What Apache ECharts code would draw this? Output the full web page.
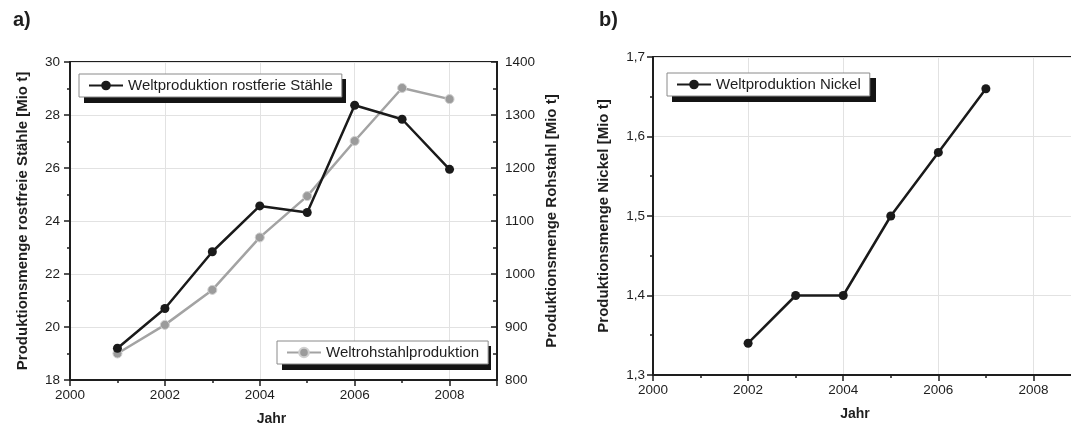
<!DOCTYPE html>
<html>
<head>
<meta charset="utf-8">
<script src="https://cdn.jsdelivr.net/npm/echarts@6/dist/echarts.min.js"></script>
<style>
  html, body { margin: 0; padding: 0; background: #fff; }
  #chart { width: 1071px; height: 429px; }
</style>
</head>
<body>
<div id="chart"></div>
<script>
// Panel a): world production of stainless steel and crude steel
const years = [2001, 2002, 2003, 2004, 2005, 2006, 2007, 2008];
const stainless = [19.2, 20.7, 22.84, 24.57, 24.32, 28.37, 27.84, 25.95];   // Mio t
const crudeSteel = [850, 904, 970, 1069, 1147, 1251, 1351, 1330];            // Mio t

// Panel b): world nickel production
const nickelYears = [2002, 2003, 2004, 2005, 2006, 2007];
const nickel = [1.34, 1.40, 1.40, 1.50, 1.58, 1.66];                         // Mio t

const NAME_STAINLESS = 'Weltproduktion rostferie Stähle';
const NAME_CRUDE = 'Weltrohstahlproduktion';
const NAME_NICKEL = 'Weltproduktion Nickel';

const FONT = 'Liberation Sans, Arial, Helvetica, sans-serif';
const INK = '#1e1e1e';
const GRIDLINE = '#e2e2e2';

const pairs = (xs, ys) => xs.map((x, i) => [x, ys[i]]);

function xAxisFor(gridIndex) {
  return {
    type: 'value', gridIndex,
    min: 2000, max: 2009, interval: 2,
    name: 'Jahr', nameLocation: 'middle', nameGap: 32,
    nameTextStyle: { fontFamily: FONT, fontSize: 14, fontWeight: 'bold', color: INK, padding: [0, 24, 0, 0] },
    axisLine: { show: true, onZero: false, lineStyle: { color: INK, width: 2 } },
    axisTick: { show: true, inside: false, length: 6, lineStyle: { color: INK, width: 1.5 } },
    minorTick: { show: true, splitNumber: 2, length: 3, lineStyle: { color: INK, width: 1.5 } },
    axisLabel: { showMaxLabel: false, margin: 8, fontFamily: FONT, fontSize: 13.5, color: INK, formatter: v => String(v) },
    splitLine: { show: true, lineStyle: { color: GRIDLINE, width: 1 } }
  };
}

// Legend box (white, grey frame); its black drop shadow is a separate rect below
function legendFor(name, left, top) {
  return {
    data: [name], left, top, orient: 'horizontal', z: 8,
    padding: [4, 9, 4, 9], itemWidth: 34, itemHeight: 12,
    backgroundColor: '#fff', borderColor: '#8a8a8a', borderWidth: 1,
    textStyle: { fontFamily: FONT, fontSize: 15, color: INK },
    selectedMode: false
  };
}
function shadowRect(x, y, w, h) {
  return { type: 'rect', z: 6, shape: { x: x + 5, y: y + 5, width: w, height: h }, style: { fill: '#141414' } };
}

const chart = echarts.init(document.getElementById('chart'), null, { renderer: 'canvas' });

chart.setOption({
  backgroundColor: '#fff',
  animation: false,
  textStyle: { fontFamily: FONT },
  title: [
    { text: 'a)', left: 8, top: 5, textStyle: { fontFamily: FONT, fontSize: 20, fontWeight: 'bold', color: INK } },
    { text: 'b)', left: 594, top: 5, textStyle: { fontFamily: FONT, fontSize: 20, fontWeight: 'bold', color: INK } }
  ],
  grid: [
    { left: 70, top: 62, right: 574, bottom: 49, outerBoundsMode: 'none', containLabel: false,
      show: true, borderColor: INK, borderWidth: 2, backgroundColor: 'transparent' },
    { left: 653, top: 57, right: -10, bottom: 54, outerBoundsMode: 'none', containLabel: false,
      show: true, borderColor: INK, borderWidth: 2, backgroundColor: 'transparent' }
  ],
  legend: [
    legendFor(NAME_STAINLESS, 79, 74),
    legendFor(NAME_CRUDE, 277, 341),
    legendFor(NAME_NICKEL, 667, 73)
  ],
  graphic: [
    shadowRect(79, 74, 262, 24),
    shadowRect(277, 341, 209, 24),
    shadowRect(667, 73, 204, 24)
  ],
  xAxis: [xAxisFor(0), xAxisFor(1)],
  yAxis: [
    {
      type: 'value', gridIndex: 0, position: 'left',
      min: 18, max: 30, interval: 2,
      name: 'Produktionsmenge rostfreie Stähle [Mio t]', nameLocation: 'middle', nameGap: 40,
      nameTextStyle: { fontFamily: FONT, fontSize: 15, fontWeight: 'bold', color: INK },
      axisLine: { show: true, onZero: false, lineStyle: { color: INK, width: 2 } },
      axisTick: { show: true, inside: false, length: 6, lineStyle: { color: INK, width: 1.5 } },
      minorTick: { show: true, splitNumber: 2, length: 3, lineStyle: { color: INK, width: 1.5 } },
      axisLabel: { margin: 10, fontFamily: FONT, fontSize: 13.5, color: INK, formatter: v => String(v) },
      splitLine: { show: true, lineStyle: { color: GRIDLINE, width: 1 } }
    },
    {
      type: 'value', gridIndex: 0, position: 'right',
      min: 800, max: 1400, interval: 100,
      name: 'Produktionsmenge Rohstahl [Mio t]', nameLocation: 'middle', nameGap: 47,
      nameTextStyle: { fontFamily: FONT, fontSize: 15, fontWeight: 'bold', color: INK },
      axisLine: { show: true, onZero: false, lineStyle: { color: INK, width: 2 } },
      axisTick: { show: true, inside: true, length: 6, lineStyle: { color: INK, width: 1.5 } },
      minorTick: { show: true, splitNumber: 2, length: 4, lineStyle: { color: INK, width: 1.5 } },
      axisLabel: { margin: 8, fontFamily: FONT, fontSize: 13.5, color: INK, formatter: v => String(v) },
      splitLine: { show: false }
    },
    {
      type: 'value', gridIndex: 1, position: 'left',
      min: 1.3, max: 1.7, interval: 0.1,
      name: 'Produktionsmenge Nickel [Mio t]', nameLocation: 'middle', nameGap: 42,
      nameTextStyle: { fontFamily: FONT, fontSize: 15, fontWeight: 'bold', color: INK },
      axisLine: { show: true, onZero: false, lineStyle: { color: INK, width: 2 } },
      axisTick: { show: true, inside: false, length: 6, lineStyle: { color: INK, width: 1.5 } },
      minorTick: { show: true, splitNumber: 2, length: 3, lineStyle: { color: INK, width: 1.5 } },
      axisLabel: { margin: 8, fontFamily: FONT, fontSize: 13.5, color: INK,
                   formatter: v => v.toFixed(1).replace('.', ',') },
      splitLine: { show: true, lineStyle: { color: GRIDLINE, width: 1 } }
    }
  ],
  series: [
    {
      name: NAME_CRUDE, type: 'line', xAxisIndex: 0, yAxisIndex: 1,
      data: pairs(years, crudeSteel),
      symbol: 'circle', symbolSize: 9, z: 2,
      lineStyle: { color: '#a3a3a3', width: 2.5 },
      itemStyle: { color: '#9b9b9b', borderColor: '#d0d0d0', borderWidth: 1 }
    },
    {
      name: NAME_STAINLESS, type: 'line', xAxisIndex: 0, yAxisIndex: 0,
      data: pairs(years, stainless),
      symbol: 'circle', symbolSize: 9, z: 3,
      lineStyle: { color: '#1a1a1a', width: 2.5 },
      itemStyle: { color: '#1a1a1a', borderWidth: 0 }
    },
    {
      name: NAME_NICKEL, type: 'line', xAxisIndex: 1, yAxisIndex: 2,
      data: pairs(nickelYears, nickel),
      symbol: 'circle', symbolSize: 9, z: 3,
      lineStyle: { color: '#1a1a1a', width: 2.5 },
      itemStyle: { color: '#1a1a1a', borderWidth: 0 }
    }
  ]
});
</script>
</body>
</html>
